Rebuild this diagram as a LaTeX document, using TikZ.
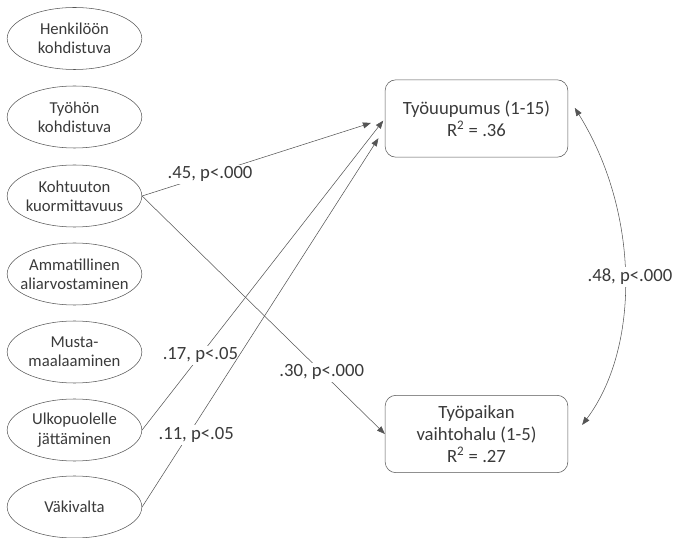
\documentclass[tikz,border=0pt]{standalone}
\usepackage{fontspec}
\setmainfont{Carlito}
\usetikzlibrary{arrows.meta, shapes.geometric}
\definecolor{viiva}{HTML}{555555}
\definecolor{teksti}{HTML}{3A3A3A}

\begin{document}
\begin{tikzpicture}[x=0.75pt, y=-0.75pt,
    tekija/.style={ellipse, draw=viiva, minimum width=101pt, minimum height=46.5pt,
        inner xsep=-7pt, inner ysep=0pt, align=center, text=teksti, font=\fontsize{12.5}{14.5}\selectfont},
    tulos/.style={draw=viiva, rounded corners=8pt, minimum width=137pt, minimum height=58pt,
        align=center, text=teksti, font=\fontsize{14}{16.5}\selectfont},
    polku/.style={draw=viiva, -{Triangle[length=6pt,width=4.5pt]}},
    arvo/.style={fill=white, inner sep=1.5pt, text=teksti, font=\fontsize{14}{16}\selectfont}]

            \useasboundingbox (0,0) rectangle (675,538);

            % Kiusaamisen muodot
            \node[tekija] (henk) at (74.5,38.5) {Henkilöön\\kohdistuva};
            \node[tekija] (tyoh) at (74.5,117) {Työhön\\kohdistuva};
            \node[tekija] (kohtu) at (74.5,196) {Kohtuuton\\kuormittavuus};
            \node[tekija] (ammat) at (74.5,274) {Ammatillinen\\aliarvostaminen};
            \node[tekija] (musta) at (74.5,352) {Musta-\\maalaaminen};
            \node[tekija] (ulko) at (74.5,430) {Ulkopuolelle\\jättäminen};
            \node[tekija] (vaki) at (74.5,507) {Väkivalta};

            % Seuraukset
            \node[tulos] (uupumus) at (476.5,118.5) {Työuupumus (1-15)\\R\textsuperscript{2} = .36};
            \node[tulos] (vaihto) at (476.5,434) {Työpaikan\\vaihtohalu (1-5)\\R\textsuperscript{2} = .27};

            % Polut
            \draw[polku, shorten >=11pt] (kohtu.east) -- node[arvo, pos=0.28] {.45, p<.000} (uupumus.west);
            \draw[polku] (kohtu.east) -- node[arvo, pos=0.74] {.30, p<.000} (vaihto.west);
            \draw[polku, shorten >=2pt] (ulko.east) -- node[arvo, pos=0.24] {.17, p<.05} (uupumus.west);
            \draw[polku, shorten >=9pt] (vaki.east) -- node[arvo, pos=0.19, xshift=6pt] {.11, p<.05} (uupumus.186);

            % Korrelaatio
            \draw[draw=viiva, {Triangle[length=6pt,width=4.5pt]}-{Triangle[length=6pt,width=4.5pt]}]
                ([xshift=5pt, yshift=8pt]uupumus.east) .. controls (640,213) and (640,348) ..
                ([xshift=10.5pt, yshift=6.75pt]vaihto.east)
                node[arvo, pos=0.5, xshift=4pt] {.48, p<.000};

\end{tikzpicture}
\end{document}
